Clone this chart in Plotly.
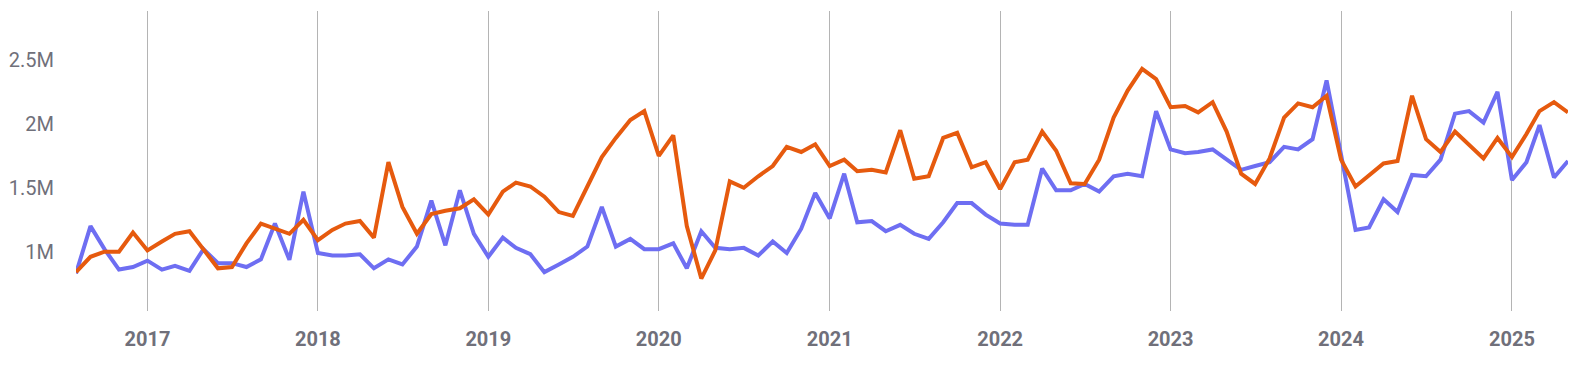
import pandas as pd
import plotly.graph_objects as go

months = pd.date_range("2016-08-01", "2025-05-01", freq="MS")

# values in millions
blue_m = [
    0.83, 1.20, 1.02, 0.86, 0.88,
    0.93, 0.86, 0.89, 0.85, 1.02, 0.91, 0.91, 0.88, 0.94, 1.22, 0.936, 1.47,
    0.99, 0.97, 0.97, 0.98, 0.87, 0.94, 0.90, 1.04, 1.40, 1.05, 1.48, 1.14,
    0.96, 1.11, 1.03, 0.98, 0.84, 0.90, 0.96, 1.04, 1.35, 1.04, 1.10, 1.02,
    1.02, 1.065, 0.87, 1.16, 1.03, 1.02, 1.03, 0.97, 1.08, 0.99, 1.18, 1.46,
    1.26, 1.61, 1.23, 1.24, 1.16, 1.21, 1.14, 1.10, 1.23, 1.38, 1.38, 1.29,
    1.22, 1.21, 1.21, 1.65, 1.48, 1.48, 1.53, 1.47, 1.59, 1.61, 1.59, 2.10,
    1.80, 1.77, 1.78, 1.80, 1.72, 1.64, 1.67, 1.70, 1.82, 1.80, 1.88, 2.34,
    1.76, 1.17, 1.19, 1.41, 1.31, 1.60, 1.59, 1.72, 2.08, 2.10, 2.01, 2.25,
    1.56, 1.70, 1.99, 1.58, 1.71,
]
orange_m = [
    0.84, 0.96, 1.00, 1.00, 1.15,
    1.01, 1.08, 1.14, 1.16, 1.02, 0.87, 0.88, 1.065, 1.22, 1.18, 1.14, 1.25,
    1.09, 1.17, 1.22, 1.24, 1.11, 1.70, 1.35, 1.14, 1.295, 1.32, 1.34, 1.41,
    1.29, 1.47, 1.54, 1.51, 1.43, 1.31, 1.28, 1.51, 1.74, 1.89, 2.03, 2.10,
    1.75, 1.91, 1.20, 0.79, 1.01, 1.55, 1.50, 1.59, 1.67, 1.82, 1.78, 1.84,
    1.67, 1.72, 1.63, 1.64, 1.62, 1.95, 1.57, 1.59, 1.89, 1.93, 1.66, 1.70,
    1.49, 1.70, 1.72, 1.94, 1.79, 1.535, 1.53, 1.72, 2.05, 2.26, 2.43, 2.35,
    2.13, 2.14, 2.09, 2.17, 1.94, 1.61, 1.53, 1.73, 2.05, 2.16, 2.13, 2.22,
    1.72, 1.51, 1.60, 1.69, 1.71, 2.22, 1.88, 1.78, 1.94, 1.84, 1.73, 1.89,
    1.74, 1.92, 2.10, 2.17, 2.09,
]

y_ticks = [1e6, 1.5e6, 2e6, 2.5e6]
x_ticks = [f"{y}-01-01" for y in range(2017, 2026)]

BLUE = "#6E6EF2"
ORANGE = "#E65A0E"
GREY = "#70707A"

fig = go.Figure()
fig.add_trace(go.Scatter(x=months, y=[v * 1e6 for v in blue_m], mode="lines",
                         line=dict(color=BLUE, width=4), showlegend=False))
fig.add_trace(go.Scatter(x=months, y=[v * 1e6 for v in orange_m], mode="lines",
                         line=dict(color=ORANGE, width=4), showlegend=False))

fig.update_layout(
    width=1565, height=354,
    margin=dict(l=68, r=5, t=3, b=51),
    paper_bgcolor="white", plot_bgcolor="white",
    font=dict(family="Roboto, Inter, sans-serif", color=GREY),
    xaxis=dict(
        range=["2016-08-01", "2025-05-01"],
        tickvals=x_ticks, tickformat="%Y", automargin=False,
        showgrid=True, gridcolor="#B4B4B4", gridwidth=1,
        zeroline=False, showline=False,
        ticks="outside", ticklen=10, tickcolor="rgba(0,0,0,0)",
        tickfont=dict(size=20, color=GREY, weight="bold"),
    ),
    yaxis=dict(
        range=[0.536e6, 2.883e6],
        tickvals=y_ticks, tickformat="~s", automargin=False,
        showgrid=False, zeroline=False, showline=False,
        ticks="outside", ticklen=17, tickcolor="rgba(0,0,0,0)",
        tickfont=dict(size=20, color=GREY),
    ),
)

fig.write_html("out.html")
